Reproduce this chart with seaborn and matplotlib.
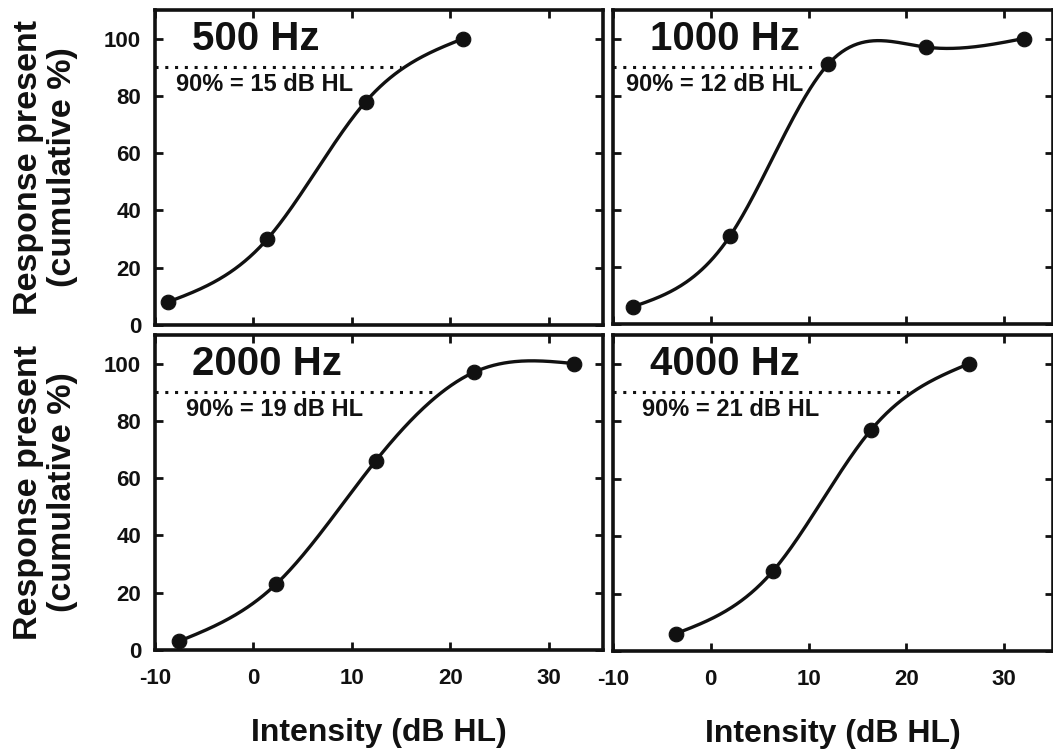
import numpy as np
import pandas as pd
import seaborn as sns
import matplotlib.pyplot as plt

freqs = ["500 Hz", "1000 Hz", "2000 Hz", "4000 Hz"]

x_500 = [-8.7, 1.4, 11.4, 21.3]
y_500 = [8, 30, 78, 100]
x_1000 = [-8.0, 2.0, 12.0, 22.0, 32.0]
y_1000 = [6, 31, 91, 97, 100]
x_2000 = [-7.6, 2.3, 12.4, 22.4, 32.6]
y_2000 = [3, 23, 66, 97, 100]
x_4000 = [-3.6, 6.4, 16.4, 26.4]
y_4000 = [6, 28, 77, 100]

thresholds = [15, 12, 19, 21]      # dB HL at 90%
line_ends = [15, 11, 18.3, 20.2]   # where the dotted 90% line stops
xticks = [-10, 0, 10, 20, 30]
yticks = [0, 20, 40, 60, 80, 100]


def smooth(x, y, n=300):
    # natural cubic spline through the measured points
    x = np.asarray(x, float)
    y = np.asarray(y, float)
    k = len(x)
    h = np.diff(x)
    A = np.zeros((k, k))
    b = np.zeros(k)
    A[0, 0] = A[-1, -1] = 1
    for i in range(1, k - 1):
        A[i, i - 1] = h[i - 1]
        A[i, i] = 2 * (h[i - 1] + h[i])
        A[i, i + 1] = h[i]
        b[i] = 3 * ((y[i + 1] - y[i]) / h[i] - (y[i] - y[i - 1]) / h[i - 1])
    c = np.linalg.solve(A, b)
    xs = np.linspace(x[0], x[-1], n)
    idx = np.clip(np.searchsorted(x, xs) - 1, 0, k - 2)
    dx = xs - x[idx]
    bb = (y[1:] - y[:-1]) / h - h * (2 * c[:-1] + c[1:]) / 3
    dd = (c[1:] - c[:-1]) / (3 * h)
    ys = y[idx] + bb[idx] * dx + c[idx] * dx ** 2 + dd[idx] * dx ** 3
    return pd.DataFrame({"x": xs, "y": ys})


sns.set_style("ticks")
plt.rcParams["font.family"] = ["Liberation Sans", "DejaVu Sans"]
plt.rcParams["font.weight"] = "bold"
plt.rcParams["axes.unicode_minus"] = False

W, H = 1053, 750
fig = plt.figure(figsize=(W / 100, H / 100), dpi=100)
ink = "#111111"

# left, top, right, bottom in pixels
boxes = [(155, 10, 603, 325), (613, 10, 1053, 324),
         (155, 335, 603, 650), (613, 335, 1053, 651)]
xmax = [35.5, 35, 35.5, 35]
data = [(x_500, y_500), (x_1000, y_1000), (x_2000, y_2000), (x_4000, y_4000)]
lab_x = [-7.9, -8.7, -6.9, -7.0]

for i, (l, t, r, b) in enumerate(boxes):
    ax = fig.add_axes([l / W, 1 - b / H, (r - l) / W, (b - t) / H])
    xs, ys = data[i]
    pts = pd.DataFrame({"x": xs, "y": ys})
    sns.lineplot(data=smooth(xs, ys), x="x", y="y", ax=ax, color=ink, lw=2.4, sort=False)
    sns.scatterplot(data=pts, x="x", y="y", ax=ax, color=ink, s=110, edgecolor=ink, zorder=5)
    ax.plot([-10, line_ends[i]], [90, 90], color=ink, lw=2.2, ls=(0, (1, 2.2)))

    ax.text(-6.2, 100, freqs[i], fontsize=29, fontweight="bold", va="center", ha="left", color=ink)
    ax.text(lab_x[i], 84, f"90% = {thresholds[i]} dB HL", fontsize=17, fontweight="bold",
            va="center", ha="left", color=ink)

    ax.set_xlim(-10, xmax[i])
    ax.set_ylim(0, 110)
    ax.set_xticks(xticks)
    ax.set_yticks(yticks)
    ax.tick_params(direction="in", top=True, right=True, length=6, width=2, colors=ink,
                   labelsize=16, pad=10)
    ax.tick_params(axis="x", pad=13)
    for sp in ax.spines.values():
        sp.set_linewidth(2.6)
        sp.set_color(ink)
    ax.set_xlabel("")
    ax.set_ylabel("")
    if i < 2:
        ax.set_xticklabels([])
    else:
        ax.set_xlabel("Intensity (dB HL)", fontsize=23, fontweight="bold", color=ink)
        ax.xaxis.set_label_coords(0.5, -0.215)
    if i % 2 == 1:
        ax.set_yticklabels([])
    else:
        ax.text(-0.245, 0.5, "Response present\n(cumulative %)", transform=ax.transAxes,
                rotation=90, fontsize=24.5, fontweight="bold", ha="center", va="center",
                linespacing=1.12, color=ink)

fig.savefig("out.png", dpi=100, facecolor="white")
